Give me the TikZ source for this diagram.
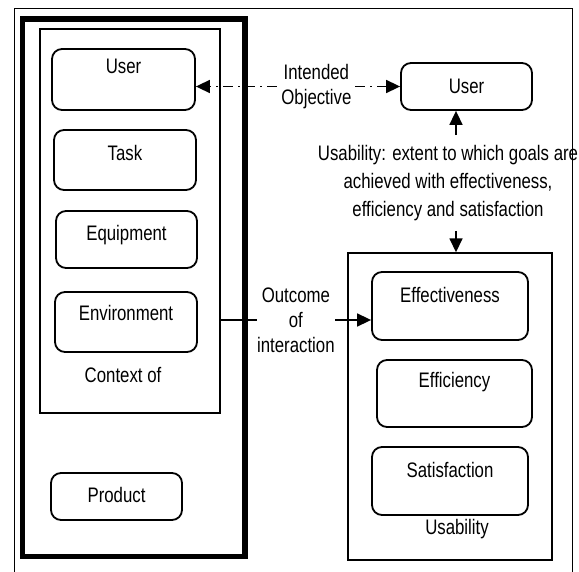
\documentclass[tikz,border=0pt]{standalone}
\usepackage{fontspec}
\setmainfont[FakeStretch=0.8]{Liberation Sans}
\usepackage{tikz}
\usetikzlibrary{arrows.meta}

\begin{document}
\begin{tikzpicture}[x=1pt, y=-1pt, >={Triangle[length=14pt,width=13pt]},
                    every node/.style={font=\fontsize{21}{25}\selectfont, align=center},
                    rbox/.style={draw, rounded corners=10pt, line width=1.8pt, inner sep=0pt,
                                 text height=15pt, text depth=#1},
                    rbox/.default=0pt,
                    frame/.style={draw, line width=1.4pt, inner sep=0pt},
                    conn/.style={line width=1.6pt}]
\useasboundingbox (0,0) rectangle (579,572);
% outer frame and product box
\draw[line width=1.8pt] (14.5,572) -- (14.5,8.5) -- (572.5,8.5) -- (572.5,572);
\draw[line width=5.5pt] (22.5,19) rectangle (245,556.5);
% context of use
\node[frame, minimum width=180pt, minimum height=384pt] (context) at (130,221) {};
\node[rbox=27pt, minimum width=143pt, minimum height=61pt] (ctxuser) at (123.5,79.5) {User};
\node[rbox=14pt, minimum width=142pt, minimum height=60pt] (task) at (125,160) {Task};
\node[rbox=13pt, minimum width=141pt, minimum height=57pt] (equip) at (126.5,239.5) {Equipment};
\node[rbox=18pt, minimum width=142pt, minimum height=60pt] (env) at (126,322) {Environment};
\node (ctxlabel) at (123,375) {Context of};
\node[rbox=3pt, minimum width=131pt, minimum height=47pt] (product) at (116.5,496.5) {Product};
% usability side
\node[rbox, minimum width=131pt, minimum height=47pt] (user) at (466.5,86.5) {User};
\node[inner ysep=10pt, font=\fontsize{21}{28}\selectfont] (goals) at (448,183)
  {Usability: extent to which goals are\\achieved with effectiveness,\\efficiency and satisfaction};
\node[frame, minimum width=204pt, minimum height=307pt] (usab) at (450,406.5) {};
\node[rbox=22pt, minimum width=156pt, minimum height=68pt] (eff) at (450,306) {Effectiveness};
\node[rbox=27pt, minimum width=155pt, minimum height=67pt] (effic) at (454.5,393.5) {Efficiency};
\node[rbox=22pt, minimum width=156pt, minimum height=68pt] (satis) at (450,481) {Satisfaction};
\node (usablabel) at (457,529) {Usability};
% connectors
\coordinate (ax) at (456,0);
\coordinate (outc) at ([yshift=-14pt]eff.west);
\draw[conn, <->, dash pattern=on 10pt off 5pt on 2pt off 5pt]
  (user.west) -- node[pos=0.41, fill=white, inner xsep=0pt, inner ysep=0pt] {Intended\\Objective}
  (user.west -| ctxuser.east);
\draw[conn, ->] (goals.north -| ax) -- (user.south -| ax);
\draw[conn, ->] (goals.south -| ax) -- (usab.north -| ax);
\draw[conn, ->] (context.east |- outc) -- node[fill=white, inner xsep=0pt] {Outcome\\of\\interaction} (outc);
\end{tikzpicture}
\end{document}
